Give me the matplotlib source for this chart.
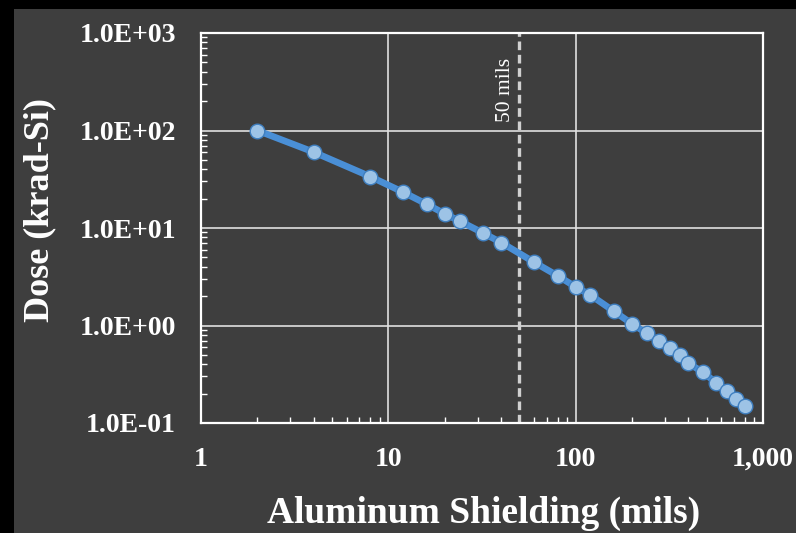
import matplotlib.pyplot as plt
from matplotlib.patches import Rectangle
from matplotlib.ticker import FixedLocator, LogLocator, NullFormatter

# Aluminum shielding thickness (mils) and dose (krad-Si)
shielding = [2, 4, 8, 12, 16, 20, 24, 32, 40, 60, 80, 100, 120, 160, 200,
             240, 280, 320, 360, 400, 480, 560, 640, 720, 800]
dose = [100, 60, 33.7, 23.3, 17.6, 14.0, 11.8, 8.9, 7.1, 4.46, 3.24, 2.49, 2.05,
        1.40, 1.04, 0.83, 0.69, 0.59, 0.50, 0.41, 0.33, 0.26, 0.214, 0.178, 0.15]

x_ticks = [1, 10, 100, 1000]
x_labels = ["1", "10", "100", "1,000"]
y_ticks = [0.1, 1, 10, 100, 1000]
y_labels = ["1.0E-01", "1.0E+00", "1.0E+01", "1.0E+02", "1.0E+03"]
marker_x = 50

plt.rcParams["font.family"] = ["Liberation Serif", "DejaVu Serif"]

W, H = 796, 533
fig = plt.figure(figsize=(W / 100, H / 100), dpi=100, facecolor="black")
bg = Rectangle((14 / W, 0), 1, 1 - 9 / H, transform=fig.transFigure,
               facecolor="#3e3e3e", edgecolor="none", zorder=-10)
fig.add_artist(bg)

ax = fig.add_axes([201 / W, 1 - 423 / H, (763 - 201) / W, (423 - 33) / H])
ax.set_facecolor("#3e3e3e")
ax.set_xscale("log")
ax.set_yscale("log")
ax.set_xlim(1, 1000)
ax.set_ylim(0.1, 1000)

ax.grid(True, which="major", color="#e0e0e0", lw=1.2, zorder=1)
for s in ax.spines.values():
    s.set_color("white")
    s.set_linewidth(1.6)

ax.axvline(marker_x, color="#d0d0d0", lw=2.4, dashes=(2.6, 1.4), zorder=2)
ax.text(0.541, 0.854, "50 mils", transform=ax.transAxes, rotation=90,
        color="white", fontsize=15.5, ha="center", va="center")

ax.plot(shielding, dose, "-o", color="#4a8fd6", lw=4.8, ms=10.5,
        markerfacecolor="#9dc3e6", markeredgecolor="#3f7fc0", markeredgewidth=1,
        zorder=3)

ax.xaxis.set_major_locator(FixedLocator(x_ticks))
ax.set_xticklabels(x_labels)
ax.yaxis.set_major_locator(FixedLocator(y_ticks))
ax.set_yticklabels(y_labels)
ax.xaxis.set_minor_locator(LogLocator(base=10, subs=range(2, 10)))
ax.yaxis.set_minor_locator(LogLocator(base=10, subs=range(2, 10)))
ax.xaxis.set_minor_formatter(NullFormatter())
ax.yaxis.set_minor_formatter(NullFormatter())

ax.tick_params(which="both", direction="in", colors="white")
ax.tick_params(which="major", length=0)
ax.tick_params(which="minor", length=4, width=1)
ax.tick_params(axis="y", which="major", pad=18)
ax.tick_params(axis="x", which="major", pad=17)
for lab in ax.get_xticklabels() + ax.get_yticklabels():
    lab.set_fontsize(20)
    lab.set_fontweight("bold")
    lab.set_color("white")

fig.text(483.5 / W, 1 - 523 / H, "Aluminum Shielding (mils)", fontsize=27,
         fontweight="bold", color="white", ha="center", va="baseline")
fig.text(40 / W, 1 - 210.5 / H, "Dose (krad-Si)", fontsize=26, fontweight="bold",
         color="white", rotation=90, ha="center", va="center")

fig.savefig("out.png", dpi=100, facecolor=fig.get_facecolor())
